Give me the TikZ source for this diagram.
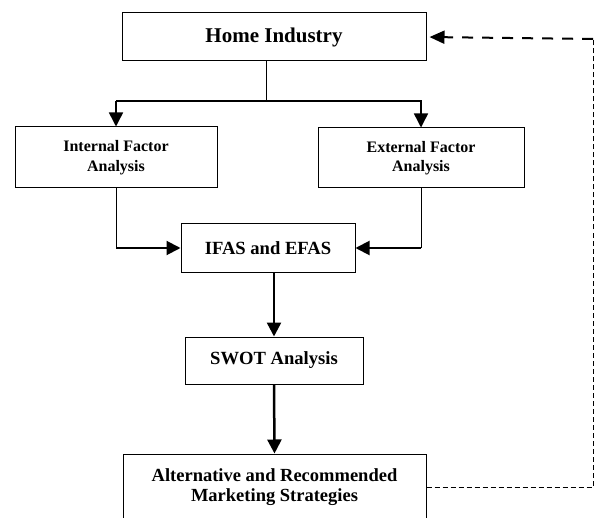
\documentclass[tikz,border=0pt]{standalone}
\usepackage{fontspec}
\setmainfont{Liberation Serif}
\usetikzlibrary{arrows.meta}
\tikzset{box/.style = {draw, line width=1pt, inner sep=0pt, align=center}}
\tikzset{tip/.style = {-{Triangle[length=14pt,width=14pt]}}}
\tikzset{feedback/.style = {line width=1pt, dash pattern=on 5pt off 3pt}}

\begin{document}
\begin{tikzpicture}[x=1pt,y=-1pt]
                    \useasboundingbox (0,0) rectangle (601,518);
                    \clip (0,0) rectangle (601,518);

                    \node[box, minimum width=304pt, minimum height=48pt, font=\bfseries\fontsize{21}{24}\selectfont] (home) at (274,37) {Home Industry};
                    \node[box, minimum width=202pt, minimum height=61pt, font=\bfseries\fontsize{16}{19.5}\selectfont] (int) at (116,157.5) {Internal Factor\\Analysis};
                    \node[box, minimum width=206pt, minimum height=60pt, font=\bfseries\fontsize{16}{19.5}\selectfont] (ext) at (421,158) {External Factor\\Analysis};
                    \node[box, minimum width=174pt, minimum height=48pt, font=\bfseries\fontsize{18.6}{21}\selectfont] (ifas) at (268,248) {IFAS and EFAS};
                    \node[box, minimum width=178pt, minimum height=47pt, font=\bfseries\fontsize{18.6}{21}\selectfont] (swot) at (274,360.5) {SWOT Analysis};
                    \node[box, minimum width=303pt, minimum height=66pt, font=\bfseries\fontsize{18.5}{19.5}\selectfont] (alt) at (274.5,487) {Alternative and Recommended\\Marketing Strategies};

                    \coordinate (split) at (266,101);
                    \coordinate (turn) at (593,39);

                    % Split from home industry to both factors
                    \draw [line width=1pt] (split |- home.south) -- (split);
                    \draw [line width=1.5pt, tip] (int.north |- split) -| (int.north);
                    \draw [line width=1.5pt, tip] (int.north |- split) -| (ext.north);

                    % Internal factors to IFAS
                    \draw [line width=1pt] (int.south) -- (int.south |- ifas.west);
                    \draw [line width=2pt, tip] (int.south |- ifas.west) -- (ifas.west);

                    % External factors to EFAS
                    \draw [line width=1pt] (ext.south) -- (ext.south |- ifas.east);
                    \draw [line width=2pt, tip] (ext.south |- ifas.east) -- (ifas.east);

                    % IFAS and EFAS to SWOT
                    \draw [line width=2.5pt, tip] (swot.north |- ifas.south) -- (swot.north);

                    % SWOT to strategies
                    \draw [line width=2.5pt, tip] (swot.south) -- (alt.north);

                    % Dashed path back to home industry
                    \draw [feedback] (alt.east) -| (turn);
                    \draw [line width=2pt, dash pattern=on 11pt off 9pt, shorten >=3pt, -{Triangle[length=15pt,width=13pt]}] (turn) -- (home.east);
\end{tikzpicture}
\end{document}
